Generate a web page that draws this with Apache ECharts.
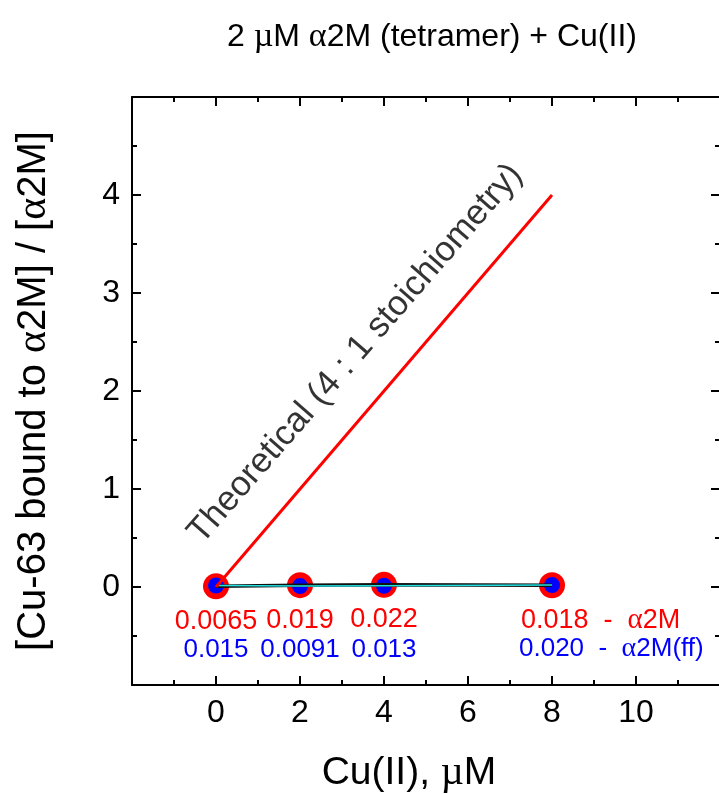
<!DOCTYPE html>
<html>
<head>
<meta charset="utf-8">
<script src="https://cdn.jsdelivr.net/npm/echarts@6/dist/echarts.min.js"></script>
<style>
  html, body { margin: 0; padding: 0; background: #fff; }
  #chart { width: 719px; height: 794px; }
</style>
</head>
<body>
<div id="chart"></div>
<script>
// Cu(II) added, uM
var cuConc = [0, 2, 4, 8]
// [Cu-63 bound] / [a2M]
var boundA2M = [0.0065, 0.019, 0.022, 0.018]
var boundA2Mff = [0.015, 0.0091, 0.013, 0.020]
var labelA2M = ['0.0065', '0.019', '0.022', '0.018']
var labelA2Mff = ['0.015', '0.0091', '0.013', '0.020']
// theoretical 4 : 1 line
var theoryX = [0, 8]
var theoryY = [0, 4]
var xTickLabels = [0, 2, 4, 6, 8, 10]
var yTickLabels = [0, 1, 2, 3, 4]

var FONT = 'Liberation Sans'

function pairs(xs, ys) {
  var out = []
  for (var i = 0; i < xs.length; i++) out.push([xs[i], ys[i]])
  return out
}

// frame axis, ticks point inward
function axis(pos, min, max, interval, labels) {
  var black = { color: '#000', width: 2 }
  return {
    type: 'value',
    position: pos,
    min: min,
    max: max,
    interval: interval,
    axisLine: { show: true, onZero: false, lineStyle: black },
    axisTick: { show: true, inside: true, length: 9, lineStyle: black },
    minorTick: { show: true, splitNumber: 2, length: 5, lineStyle: black },
    splitLine: { show: false },
    minorSplitLine: { show: false },
    axisLabel: {
      show: !!labels,
      fontFamily: FONT,
      fontSize: 32,
      color: '#000',
      margin: 12,
      showMinLabel: true,
      showMaxLabel: true,
      formatter: function(v) {
        return labels && labels.indexOf(v) >= 0 ? String(v) : ''
      }
    }
  }
}

var xBottom = axis('bottom', -2, 12, 2, xTickLabels)
xBottom.name = 'Cu(II), {g|µ}M'
xBottom.nameLocation = 'middle'
xBottom.nameGap = 68
xBottom.nameTextStyle = {
  fontFamily: FONT, fontSize: 39, color: '#000', padding: [0, 34, 0, 0],
  rich: { g: { fontFamily: 'Liberation Serif', fontSize: 40 } }
}

var yLeft = axis('left', -1, 5, 1, yTickLabels)
yLeft.name = '[Cu-63 bound to {g|α}2M] / [{g|α}2M]'
yLeft.nameLocation = 'middle'
yLeft.nameRotate = 90
yLeft.nameGap = 77
yLeft.nameTextStyle = {
  fontFamily: FONT, fontSize: 40, color: '#000',
  rich: { g: { fontFamily: 'Liberation Serif', fontSize: 42 } }
}

var chart = echarts.init(document.getElementById('chart'))

var a2mData = pairs(cuConc, boundA2M)
var ffData = pairs(cuConc, boundA2Mff)
// last point carries the series name after its value
a2mData[3] = { value: a2mData[3], label: { align: 'left', offset: [-31, 35] } }
ffData[3] = { value: ffData[3], label: { align: 'left', offset: [-33, 64] } }

var option = {
  animation: false,
  title: {
    text: '2 {g|µ}M {g|α}2M (tetramer) + Cu(II)',
    left: 427,
    top: 15,
    textAlign: 'center',
    textStyle: {
      fontFamily: FONT,
      fontSize: 32,
      fontWeight: 'normal',
      color: '#000',
      rich: { g: { fontFamily: 'Liberation Serif', fontSize: 34 } }
    }
  },
  grid: { left: 132, right: -1, top: 97, bottom: 109, outerBoundsMode: 'none', containLabel: false },
  xAxis: [xBottom, axis('top', -2, 12, 2, null)],
  yAxis: [yLeft, axis('right', -1, 5, 1, null)],
  series: [
    {
      name: 'a2M line',
      type: 'line',
      data: pairs(cuConc, boundA2M),
      showSymbol: false,
      lineStyle: { color: '#111', width: 3.5 },
      silent: true
    },
    {
      name: 'a2M(ff) line',
      type: 'line',
      data: pairs(cuConc, boundA2Mff),
      showSymbol: false,
      lineStyle: { color: '#22e0e0', width: 1.5 },
      silent: true
    },
    {
      name: 'a2M',
      type: 'scatter',
      data: a2mData,
      symbol: 'circle',
      symbolSize: 26,
      itemStyle: { color: '#ff0000', opacity: 1 },
      label: {
        show: true,
        position: 'inside',
        offset: [0, 35],
        fontFamily: FONT,
        fontSize: 27,
        color: '#ff0000',
        formatter: function(p) {
          return labelA2M[p.dataIndex] + (p.dataIndex === 3 ? '  -  {g|α}2M' : '')
        },
        rich: { g: { fontFamily: 'Liberation Serif', fontSize: 29, color: '#ff0000' } }
      }
    },
    {
      name: 'a2M(ff)',
      type: 'scatter',
      data: ffData,
      symbol: 'circle',
      symbolSize: 16,
      itemStyle: { color: '#0000ff', opacity: 1 },
      label: {
        show: true,
        position: 'inside',
        offset: [0, 64],
        fontFamily: FONT,
        fontSize: 26,
        color: '#0000ff',
        formatter: function(p) {
          return labelA2Mff[p.dataIndex] + (p.dataIndex === 3 ? '  -  {g|α}2M(ff)' : '')
        },
        rich: { g: { fontFamily: 'Liberation Serif', fontSize: 28, color: '#0000ff' } }
      }
    },
    {
      name: 'Theoretical',
      type: 'line',
      data: pairs(theoryX, theoryY),
      showSymbol: false,
      lineStyle: { color: '#ff0000', width: 3 },
      silent: true
    },
    {
      name: 'Theoretical label',
      type: 'scatter',
      data: [[3.32, 2.38]],
      symbolSize: 0,
      silent: true,
      label: {
        show: true,
        position: 'inside',
        rotate: 49,
        fontFamily: FONT,
        fontSize: 35,
        color: '#000',
        formatter: 'Theoretical (4 : 1 stoichiometry)'
      }
    }
  ]
}

chart.setOption(option)
</script>
</body>
</html>
